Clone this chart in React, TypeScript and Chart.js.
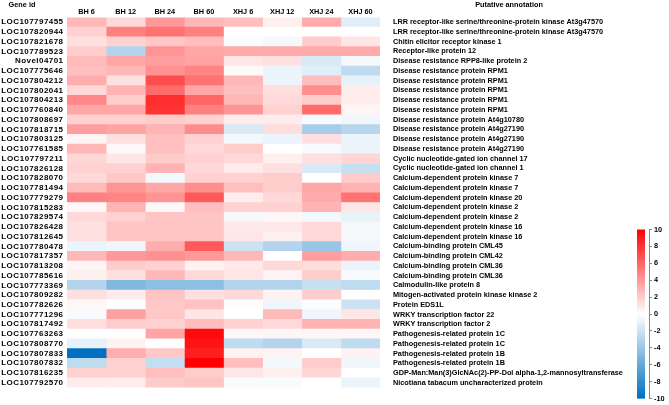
import React, { useEffect, useRef } from "react";
import { Chart, registerables } from "chart.js";

Chart.register(...registerables);

const columns = ["BH 6", "BH 12", "BH 24", "BH 60", "XHJ 6", "XHJ 12", "XHJ 24", "XHJ 60"];

const geneIds = [
  "LOC107797455", "LOC107820944", "LOC107821678", "LOC107789523", "Novel04701",
  "LOC107775646", "LOC107804212", "LOC107802041", "LOC107804213", "LOC107760840",
  "LOC107808697", "LOC107818715", "LOC107803125", "LOC107761585", "LOC107797211",
  "LOC107826128", "LOC107828070", "LOC107781494", "LOC107779279", "LOC107815283",
  "LOC107829574", "LOC107826428", "LOC107812645", "LOC107780478", "LOC107817357",
  "LOC107813208", "LOC107785616", "LOC107773369", "LOC107809282", "LOC107782626",
  "LOC107771296", "LOC107817492", "LOC107763263", "LOC107808770", "LOC107807833",
  "LOC107807832", "LOC107816235", "LOC107792570",
];

const annotations = [
  "LRR receptor-like serine/threonine-protein kinase At3g47570",
  "LRR receptor-like serine/threonine-protein kinase At3g47570",
  "Chitin elicitor receptor kinase 1",
  "Receptor-like protein 12",
  "Disease resistance RPP8-like protein 2",
  "Disease resistance protein RPM1",
  "Disease resistance protein RPM1",
  "Disease resistance protein RPM1",
  "Disease resistance protein RPM1",
  "Disease resistance protein RPM1",
  "Disease resistance protein At4g10780",
  "Disease resistance protein At4g27190",
  "Disease resistance protein At4g27190",
  "Disease resistance protein At4g27190",
  "Cyclic nucleotide-gated ion channel 17",
  "Cyclic nucleotide-gated ion channel 1",
  "Calcium-dependent protein kinase 7",
  "Calcium-dependent protein kinase 7",
  "Calcium-dependent protein kinase 20",
  "Calcium-dependent protein kinase 2",
  "Calcium-dependent protein kinase 2",
  "Calcium-dependent protein kinase 16",
  "Calcium-dependent protein kinase 16",
  "Calcium-binding protein CML45",
  "Calcium-binding protein CML42",
  "Calcium-binding protein CML36",
  "Calcium-binding protein CML36",
  "Calmodulin-like protein 8",
  "Mitogen-activated protein kinase kinase 2",
  "Protein EDS1L",
  "WRKY transcription factor 22",
  "WRKY transcription factor 2",
  "Pathogenesis-related protein 1C",
  "Pathogenesis-related protein 1C",
  "Pathogenesis-related protein 1B",
  "Pathogenesis-related protein 1B",
  "GDP-Man:Man(3)GlcNAc(2)-PP-Dol alpha-1,2-mannosyltransferase",
  "Nicotiana tabacum uncharacterized protein",
];

const bh6 = [2.8, 1.8, 1.2, 2.0, 2.7, 2.5, 3.2, 1.5, 4.7, 3.5, 1.8, 3.8, 0.4, 2.8, 1.6, 1.8, 1.5, 2.7, 5.0, 0.3, 1.5, 1.2, 1.2, -0.8, 2.8, 0.4, 0.6, -3.0, 1.2, 0.3, -0.3, 1.3, 0, -1.0, -10, -2.5, 1.8, 0.8];
const bh12 = [1.5, 5.0, 1.8, -3.0, 3.5, 2.8, 1.2, 3.0, 2.0, 3.5, 1.8, 3.6, 1.2, 0.3, 1.0, 1.8, 2.2, 4.2, 4.8, 3.0, 1.8, 2.3, 2.3, -0.6, 4.0, 2.0, 1.2, -5.0, 0.8, 0, 3.7, 2.0, 0, 0.5, 3.2, 1.8, 1.8, 0.7];
const bh24 = [4.0, 5.5, 2.2, 4.2, 3.8, 4.3, 7.0, 5.8, 8.2, 8.0, 2.0, 3.0, 2.5, 2.5, 2.0, 3.0, -0.5, 3.5, 4.2, 0.3, 2.3, 2.3, 2.3, 3.2, 4.3, 1.8, 2.8, -4.5, 2.3, 2.2, 2.2, 1.8, 3.6, 0, 2.2, -2.3, 2.5, 2.0];
const bh60 = [2.8, 5.0, 2.6, 3.5, 3.6, 4.8, 5.5, 3.5, 6.0, 5.0, 1.8, 4.5, 1.8, 1.5, 1.8, 1.5, 1.8, 4.4, 6.5, 2.5, 2.3, 2.3, 2.3, 6.5, 4.0, 0.5, 1.5, -4.5, 1.2, 2.4, 1.0, 2.6, 9.6, 9.2, 8.8, 10, 2.0, 2.3];
const xhj6 = [2.5, 0, -0.2, 3.3, 1.0, 0.2, 2.8, 2.5, 2.8, 4.2, 0.7, -1.5, -0.5, 2.0, 1.5, 0.8, 1.8, 2.5, 0.7, 1.8, -0.4, 0.9, 1.0, -2.0, 2.8, 0.9, 1.0, -3.0, 1.5, 0.1, 0, 1.8, 0.3, -2.5, 0.5, 2.5, 1.0, -0.3];
const xhj12 = [0.6, 0, -0.4, 3.3, 1.2, -0.8, -0.8, 1.3, 1.5, 1.8, 0.8, 1.3, -0.8, 0, 0.6, 1.2, 2.0, 2.0, 1.5, 1.8, 0.3, 0.9, 0.6, -3.0, 0, 1.5, 0.5, -3.0, 0.5, -0.6, 2.7, 1.5, 0.3, -3.0, 0.5, -0.5, 0.6, -0.3];
const xhj24 = [3.3, 0, 2.0, 3.3, -1.5, -1.2, 2.6, 4.4, 2.0, 5.8, -0.3, -3.5, 1.2, -0.3, 1.2, -1.5, 0, 3.5, 3.3, 3.0, -0.5, 1.5, 1.5, -4.0, 3.8, 1.3, 2.0, -2.2, 2.0, -0.2, -0.6, 3.0, 0.3, -1.5, 0, 2.0, 1.6, 0];
const xhj60 = [-1.2, 0, 1.0, 3.3, -0.4, -2.5, -1.0, 0.7, 0.7, 0.4, -0.6, -2.8, -0.8, -0.8, 1.6, -2.2, 2.0, 3.0, 5.5, 1.0, -0.9, -0.4, -0.4, -0.6, 3.2, -0.8, -0.3, -2.5, 0, -2.0, 1.0, 3.0, 0.3, -2.5, 0.5, -0.6, 0, -0.8];

const columnValues = [bh6, bh12, bh24, bh60, xhj6, xhj12, xhj24, xhj60];

const scaleMin = -10;
const scaleMax = 10;
const scaleStep = 2;

const RED = [255, 0, 0];
const WHITE = [255, 255, 255];
const BLUE = [0, 112, 192];

function colorFor(v: number): string {
  const t = Math.max(-1, Math.min(1, v / scaleMax));
  const target = t >= 0 ? RED : BLUE;
  const s = Math.abs(t);
  const c = WHITE.map((w, i) => Math.round(w + (target[i] - w) * s));
  return `rgb(${c[0]},${c[1]},${c[2]})`;
}

const FONT_FAMILY = "'Liberation Sans', Arial, sans-serif";

function fitSize(texts: string[], targetWidth: number): number {
  const cv = document.createElement("canvas");
  const ctx = cv.getContext("2d");
  if (!ctx) return 8;
  ctx.font = `bold 20px ${FONT_FAMILY}`;
  const w = texts.reduce((s, t) => s + ctx.measureText(t).width, 0);
  return Math.round((20 * targetWidth * 100) / w) / 100;
}

function withLetterSpacing(spacing: string) {
  return (scale: any) => {
    if (scale._lsPatched) return;
    scale._lsPatched = true;
    const orig = scale.drawLabels.bind(scale);
    scale.drawLabels = (area: any) => {
      const ctx = scale.ctx;
      const prev = ctx.letterSpacing;
      ctx.letterSpacing = spacing;
      orig(area);
      ctx.letterSpacing = prev ?? "0px";
    };
  };
}

export default function App() {
  const mainRef = useRef<HTMLCanvasElement | null>(null);
  const barRef = useRef<HTMLCanvasElement | null>(null);

  useEffect(() => {
    if (!mainRef.current || !barRef.current) return;

    const idSize = 8;
    const annSize = fitSize(
      [
        annotations[0],
        annotations[36],
        "Disease resistance protein RPM1",
        "Calcium-dependent protein kinase 20",
        "Mitogen-activated protein kinase kinase 2",
        "Nicotiana tabacum uncharacterized protein",
      ],
      979
    );
    const idFont = { family: FONT_FAMILY, size: idSize, weight: "bold" as const };
    const annFont = { family: FONT_FAMILY, size: annSize, weight: "bold" as const };
    const patchIds = withLetterSpacing("0.45px");

    const headerPlugin = {
      id: "headers",
      afterDraw(chart: any) {
        const ctx = chart.ctx;
        ctx.save();
        ctx.fillStyle = "#000";
        ctx.textAlign = "center";
        ctx.textBaseline = "middle";
        ctx.font = `bold ${annSize}px ${FONT_FAMILY}`;
        ctx.fillText("Gene id", 22, 5);
        ctx.fillText("Putative annotation", 509, 5);
        ctx.restore();
      },
    };

    const chart = new Chart(mainRef.current, {
      type: "bar",
      data: {
        labels: geneIds,
        datasets: columns.map((c, j) => ({
          label: c,
          data: geneIds.map(() => [j, j + 1]),
          backgroundColor: columnValues[j].map(colorFor),
          borderWidth: 0,
          barPercentage: 1,
          categoryPercentage: 1,
          grouped: false,
        })),
      } as any,
      options: {
        indexAxis: "y",
        responsive: false,
        maintainAspectRatio: false,
        animation: false,
        layout: { padding: { left: 0, right: 0, top: 0, bottom: 2 } },
        plugins: {
          legend: { display: false },
          tooltip: { enabled: false },
        },
        scales: {
          x: {
            type: "linear",
            position: "top",
            min: 0,
            max: columns.length,
            grid: { display: false, drawTicks: false },
            border: { display: false },
            afterBuildTicks: (scale: any) => {
              scale.ticks = columns.map((_, i) => ({ value: i + 0.5 }));
            },
            afterFit: (scale: any) => {
              scale.height = 11;
            },
            ticks: {
              autoSkip: false,
              maxRotation: 0,
              padding: 1,
              color: "#000",
              font: annFont,
              callback: (v: any) => columns[Math.floor(Number(v))] ?? "",
            },
          },
          y: {
            type: "category",
            position: "left",
            offset: true,
            grid: { display: false, drawTicks: false },
            border: { display: false },
            afterFit: (scale: any) => {
              scale.width = 67;
              patchIds(scale);
            },
            ticks: { autoSkip: false, padding: 3.5, color: "#000", font: idFont },
          },
          y2: {
            type: "category",
            labels: annotations,
            position: "right",
            offset: true,
            grid: { display: false, drawTicks: false },
            border: { display: false },
            afterFit: (scale: any) => {
              scale.width = 289;
            },
            ticks: { autoSkip: false, padding: 13, color: "#000", font: annFont },
          },
        },
      } as any,
      plugins: [headerPlugin],
    });

    const colorbarPlugin = {
      id: "colorbar",
      beforeDraw(c: any) {
        const y = c.scales.y;
        const area = c.chartArea;
        const top = y.getPixelForValue(scaleMax);
        const bottom = y.getPixelForValue(scaleMin);
        const ctx = c.ctx;
        const g = ctx.createLinearGradient(0, top, 0, bottom);
        g.addColorStop(0, colorFor(scaleMax));
        g.addColorStop(0.5, colorFor(0));
        g.addColorStop(1, colorFor(scaleMin));
        ctx.save();
        ctx.fillStyle = g;
        ctx.fillRect(area.left, top, 8, bottom - top);
        ctx.restore();
      },
    };

    const bar = new Chart(barRef.current, {
      type: "scatter",
      data: { datasets: [] },
      options: {
        responsive: false,
        maintainAspectRatio: false,
        animation: false,
        layout: { padding: { left: 37, top: 9.5, bottom: 6, right: 0 } },
        plugins: { legend: { display: false }, tooltip: { enabled: false } },
        scales: {
          x: { type: "linear", display: false, min: 0, max: 1 },
          y: {
            type: "linear",
            position: "right",
            min: scaleMin,
            max: scaleMax,
            afterFit: (scale: any) => {
              scale.width = 20;
            },
            grid: { display: true, drawOnChartArea: false, drawTicks: true, tickLength: 3, color: "#888" },
            border: { display: true, color: "#888", width: 1 },
            ticks: {
              stepSize: scaleStep,
              padding: 2,
              color: "#000",
              font: { family: FONT_FAMILY, size: annSize, weight: "bold" },
            },
          },
        },
      } as any,
      plugins: [colorbarPlugin],
    });

    return () => {
      chart.destroy();
      bar.destroy();
    };
  }, []);

  return (
    <div style={{ position: "fixed", left: 0, top: 0, width: 669, height: 405, background: "#fff" }}>
      <canvas
        ref={mainRef}
        width={669}
        height={405}
        style={{ position: "absolute", left: 0, top: 0, width: 669, height: 405 }}
      />
      <canvas
        ref={barRef}
        width={69}
        height={185}
        style={{ position: "absolute", left: 600, top: 220, width: 69, height: 185 }}
      />
    </div>
  );
}
